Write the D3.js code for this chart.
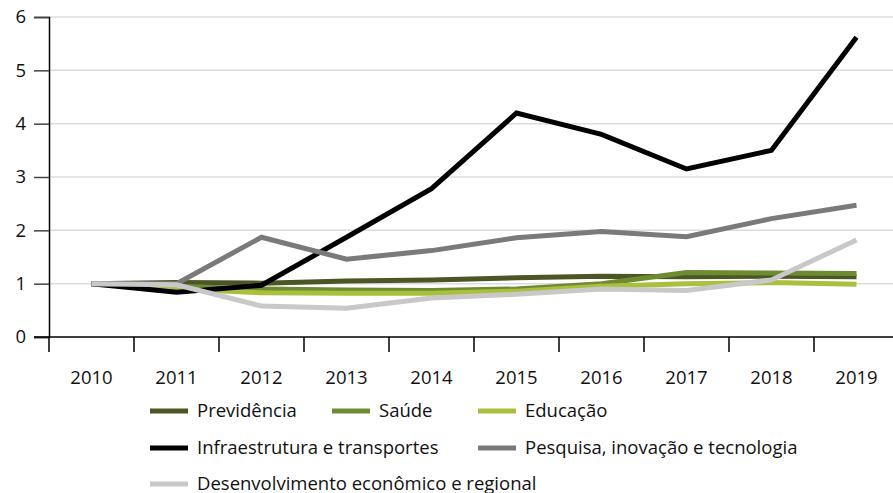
<!DOCTYPE html>
<html>
<head>
<meta charset="utf-8">
<script src="https://cdn.jsdelivr.net/npm/d3@7"></script>
<style>
  body { margin: 0; background: #fff; }
  svg { display: block; font-family: "Open Sans", "Noto Sans", sans-serif; }
</style>
</head>
<body>
<svg id="chart" width="893" height="493"></svg>
<script>
const years = ["2010", "2011", "2012", "2013", "2014", "2015", "2016", "2017", "2018", "2019"];
const yTicks = [0, 1, 2, 3, 4, 5, 6];

const previdencia = [1.00, 1.02, 1.01, 1.05, 1.07, 1.11, 1.14, 1.13, 1.14, 1.13];
const saude = [1.00, 0.95, 0.90, 0.88, 0.87, 0.90, 1.00, 1.21, 1.20, 1.19];
const educacao = [1.00, 0.90, 0.83, 0.82, 0.82, 0.86, 0.95, 1.00, 1.02, 0.99];
const infraestrutura = [1.00, 0.84, 0.97, 1.87, 2.78, 4.20, 3.80, 3.15, 3.50, 5.62];
const pesquisa = [1.00, 1.00, 1.87, 1.46, 1.62, 1.86, 1.98, 1.88, 2.22, 2.47];
const desenvolvimento = [1.00, 0.98, 0.58, 0.54, 0.73, 0.80, 0.90, 0.87, 1.07, 1.82];

const seriesNames = ["Previdência", "Saúde", "Educação", "Infraestrutura e transportes",
  "Pesquisa, inovação e tecnologia", "Desenvolvimento econômico e regional"];
const seriesValues = [previdencia, saude, educacao, infraestrutura, pesquisa, desenvolvimento];
const colors = ["#4b5624", "#6d8b31", "#a9bf3d", "#000000", "#7a7a7a", "#c8c8c8"];

const svg = d3.select("#chart");
const margin = { left: 49, top: 17, bottom: 156 };
const height = 493;
const plotRight = 899;
const fontSize = 18.5;

const x = d3.scaleBand()
    .domain(years)
    .range([margin.left, plotRight]);

const y = d3.scaleLinear()
    .domain([0, 6])
    .range([height - margin.bottom, margin.top]);

// Rasterlinien
svg.append("g")
    .selectAll("line")
    .data(yTicks.filter(d => d > 0))
    .enter().append("line")
    .attr("x1", margin.left)
    .attr("x2", 893)
    .attr("y1", d => y(d))
    .attr("y2", d => y(d))
    .attr("stroke", "#dcdcdc")
    .attr("stroke-width", 1.5);

// Y-Achse
const yAxis = svg.append("g")
    .attr("transform", `translate(${margin.left},0)`)
    .call(d3.axisLeft(y).tickValues(yTicks).tickSize(15).tickPadding(8).tickFormat(d3.format("d")));
yAxis.select(".domain").attr("stroke", "#000").attr("stroke-width", 1.5);
yAxis.selectAll(".tick line").attr("stroke", "#444").attr("stroke-width", 1.5);
yAxis.selectAll("text").attr("font-size", fontSize).attr("fill", "#111").attr("font-family", "Open Sans, sans-serif");

// X-Achse
const xAxis = svg.append("g")
    .attr("transform", `translate(0,${y(0)})`);
xAxis.append("line")
    .attr("x1", margin.left - 15)
    .attr("x2", 893)
    .attr("stroke", "#000")
    .attr("stroke-width", 1.5);
xAxis.selectAll(".sep")
    .data(years)
    .enter().append("line")
    .attr("class", "sep")
    .attr("x1", d => x(d))
    .attr("x2", d => x(d))
    .attr("y1", 0)
    .attr("y2", 15)
    .attr("stroke", "#000")
    .attr("stroke-width", 1.5);
xAxis.selectAll(".lbl")
    .data(years)
    .enter().append("text")
    .attr("class", "lbl")
    .attr("x", d => x(d) + x.bandwidth() / 2)
    .attr("y", 47)
    .attr("text-anchor", "middle")
    .attr("font-size", fontSize)
    .attr("fill", "#111")
    .text(d => d);

// Linien
const line = d3.line()
    .x((d, i) => x(years[i]) + x.bandwidth() / 2)
    .y(d => y(d));

svg.append("g")
    .selectAll("path")
    .data(seriesValues)
    .enter().append("path")
    .attr("fill", "none")
    .attr("stroke", (d, i) => colors[i])
    .attr("stroke-width", 5)
    .attr("stroke-linejoin", "miter")
    .attr("d", line);

// Legende
const legendPos = [
  [150, 411], [332, 411], [478, 411],
  [150, 448], [478, 448],
  [150, 484]
];
const legend = svg.append("g")
    .selectAll("g")
    .data(seriesNames)
    .enter().append("g")
    .attr("transform", (d, i) => `translate(${legendPos[i][0]},${legendPos[i][1]})`);
legend.append("line")
    .attr("x1", 0)
    .attr("x2", 38)
    .attr("stroke", (d, i) => colors[i])
    .attr("stroke-width", 5);
legend.append("text")
    .attr("x", 47)
    .attr("dy", "0.35em")
    .attr("font-size", fontSize)
    .attr("fill", "#111")
    .text(d => d);
</script>
</body>
</html>
